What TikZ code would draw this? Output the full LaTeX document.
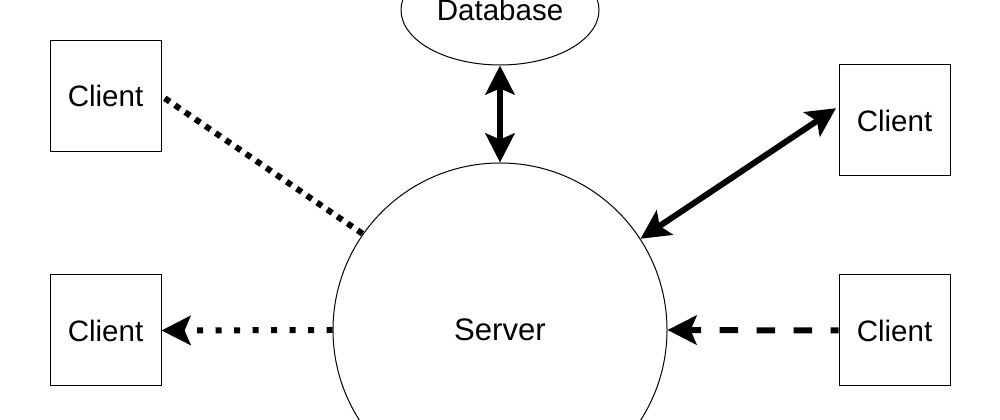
\documentclass[tikz,border=0pt]{standalone}
\usepackage{fontspec}
\setmainfont{Liberation Sans}
\usetikzlibrary{arrows.meta, shapes.geometric}

\begin{document}
\begin{tikzpicture}[
        >={Stealth[length=2.9mm, width=2.9mm, inset=0.6mm]},
        clnt/.style={rectangle, draw, line width=0.1mm, minimum width=11.1mm, minimum height=11.1mm, inner sep=0pt, font=\fontsize{8.4}{10}\selectfont},
        srv/.style={circle, draw, line width=0.1mm, minimum size=33.4mm, inner sep=0pt, font=\fontsize{8.85}{10}\selectfont},
        dbase/.style={ellipse, draw, line width=0.1mm, minimum width=19.8mm, minimum height=11mm, inner sep=0pt, font=\fontsize{8.4}{10}\selectfont},
        link/.style={line width=0.6mm},
        ]

      \path[use as bounding box, clip] (0, 0) rectangle (10, -4.2);

      \node[dbase] (db) at (5, -0.1) {Database};
      \node[srv] (sv) at (5, -3.3) {Server};

      \node[clnt] (tl) at (1.055, -0.96) {Client};
      \node[clnt] (bl) at (1.055, -3.305) {Client};
      \node[clnt] (tr) at (8.945, -1.205) {Client};
      \node[clnt] (br) at (8.945, -3.305) {Client};

      \draw[link, dash pattern=on 0.6mm off 0.63mm, shorten <=0.4mm] (tl.east) -- (sv.145);
      \draw[link, dash pattern=on 0.6mm off 1.25mm, ->] (sv.west) -- (bl.east);
      \draw[link, <->, shorten >=0.3mm] (sv.33) -- (tr.166);
      \draw[link, dash pattern=on 1.85mm off 1.85mm, dash phase=1.05mm, ->] (br.west) -- (sv.east);
      \draw[link, <->] (db.south) -- (sv.north);
    \end{tikzpicture}
\end{document}
